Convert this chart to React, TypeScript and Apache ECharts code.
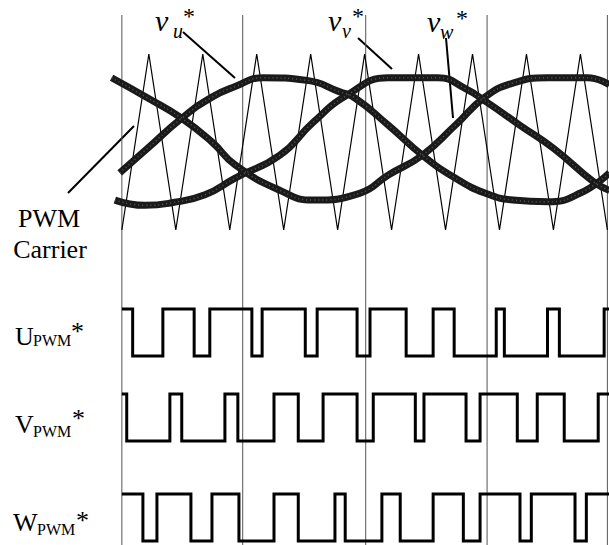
import React, { useEffect, useRef } from "react";
import * as echarts from "echarts";

// Time axis unit: one carrier period. Vertical reference lines (time divisions).
const divisionLines = [0, 2.24, 4.52, 6.77, 9.0];

// PWM carrier (triangle): turning points
const carrierT = [0, 0.5, 1, 1.5, 2, 2.5, 3, 3.5, 4, 4.5, 5, 5.5, 6, 6.5, 7, 7.5, 8, 8.5, 9];
const carrierV = [-1, 1, -1, 1, -1, 1, -1, 1, -1, 1, -1, 1, -1, 1, -1, 1, -1, 1, -1];

// Reference voltages
const vuT = [-0.04, 0.48, 1.11, 1.67, 2.1, 2.62, 3.43, 4.04, 4.32, 4.94, 5.57, 6.18, 6.73, 7.25, 7.89, 8.5, 9.04];
const vuV = [-0.35, -0.07, 0.27, 0.51, 0.63, 0.73, 0.7, 0.57, 0.5, 0.19, -0.15, -0.41, -0.58, -0.66, -0.68, -0.58, -0.35];

const vvT = [-0.13, 0.43, 0.93, 1.54, 2.1, 2.93, 3.54, 4.17, 4.94, 5.86, 6.36, 6.77, 7.38, 8.0, 8.74, 9.04];
const vvV = [-0.66, -0.72, -0.69, -0.6, -0.41, -0.15, 0.22, 0.53, 0.73, 0.73, 0.61, 0.45, 0.19, -0.07, -0.45, -0.55];

const vwT = [-0.19, 0.48, 1.11, 1.67, 2.1, 2.93, 3.54, 4.42, 4.94, 5.57, 6.18, 6.73, 7.25, 7.89, 8.63, 9.04];
const vwV = [0.73, 0.5, 0.27, 0.0, -0.26, -0.55, -0.66, -0.58, -0.375, -0.15, 0.19, 0.51, 0.67, 0.73, 0.73, 0.65];

// PWM outputs: initial level and switching instants
const uStart = 1;
const uEdges = [0.2, 0.76, 1.34, 1.63, 2.41, 2.6, 3.4, 3.62, 4.36, 4.6, 5.27, 5.77, 6.16, 6.94, 7.09, 7.89, 8.11, 8.94];
const vStart = 1;
const vEdges = [0.09, 0.89, 1.11, 1.91, 2.15, 2.82, 3.27, 3.73, 4.36, 4.66, 5.44, 5.6, 6.38, 6.64, 7.33, 7.7, 8.2, 8.83];
const wStart = 1;
const wEdges = [0.39, 0.65, 1.28, 1.67, 2.17, 2.82, 3.27, 3.95, 4.14, 4.82, 5.16, 5.77, 6.33, 6.64, 7.38, 7.59, 8.4, 8.61];
const pwmEnd = 9.04;

const X_MIN = -0.22;
const X_MAX = 9.03;
const SERIF = "'Liberation Serif', 'Times New Roman', Times, serif";

function zip(t: number[], v: number[]) {
  return t.map((x, i) => [x, v[i]]);
}

function pwmData(start: number, edges: number[], end: number) {
  const pts: number[][] = [[0, start]];
  let lvl = start;
  for (const e of edges) {
    lvl = 1 - lvl;
    pts.push([e, lvl]);
  }
  pts.push([end, lvl]);
  return pts;
}

function txt(text: string, x: number, y: number, size: number, opts: any = {}) {
  return {
    type: "text",
    x,
    y,
    silent: true,
    style: {
      text,
      fill: "#000",
      fontFamily: SERIF,
      fontSize: size,
      fontStyle: opts.italic ? "italic" : "normal",
      align: opts.align || "left",
      verticalAlign: "middle",
    },
  };
}

function leader(x1: number, y1: number, x2: number, y2: number) {
  return {
    type: "line",
    silent: true,
    shape: { x1, y1, x2, y2 },
    style: { stroke: "#000", lineWidth: 2 },
  };
}

export default function App() {
  const ref = useRef<HTMLDivElement>(null);

  useEffect(() => {
    if (!ref.current) return;
    const chart = echarts.init(ref.current, undefined, { renderer: "svg" });

    const gridBase = { left: 110, right: 0 };
    const grids = [
      { ...gridBase, top: 15, height: 530 },
      { ...gridBase, top: 54, height: 176 },
      { ...gridBase, top: 309, height: 47 },
      { ...gridBase, top: 394, height: 47 },
      { ...gridBase, top: 494, height: 47 },
    ];
    const xAxes = grids.map((_, i) => ({
      type: "value",
      gridIndex: i,
      min: X_MIN,
      max: X_MAX,
      show: false,
    }));
    const yAxes = grids.map((_, i) => ({
      type: "value",
      gridIndex: i,
      min: i === 1 ? -1 : 0,
      max: 1,
      show: false,
    }));

    const series: any[] = [];
    divisionLines.forEach((x) => {
      series.push({
        type: "line",
        xAxisIndex: 0,
        yAxisIndex: 0,
        data: [
          [x, 0],
          [x, 1],
        ],
        symbol: "none",
        silent: true,
        clip: false,
        lineStyle: { color: "#555", width: 1 },
        z: 1,
      });
    });
    series.push({
      type: "line",
      xAxisIndex: 1,
      yAxisIndex: 1,
      data: zip(carrierT, carrierV),
      symbol: "none",
      clip: false,
      silent: true,
      lineStyle: { color: "#000", width: 1.2 },
      z: 2,
    });
    [
      [vuT, vuV],
      [vvT, vvV],
      [vwT, vwV],
    ].forEach(([t, v]) => {
      series.push({
        type: "line",
        xAxisIndex: 1,
        yAxisIndex: 1,
        data: zip(t, v),
        symbol: "none",
        smooth: 0.5,
        clip: true,
        silent: true,
        lineStyle: { color: "#1a1a1a", width: 7 },
        z: 3,
      });
      series.push({
        type: "line",
        xAxisIndex: 1,
        yAxisIndex: 1,
        data: zip(t, v),
        symbol: "none",
        smooth: 0.5,
        clip: true,
        silent: true,
        lineStyle: { color: "#585858", width: 1.5, type: [1, 3] },
        z: 4,
      });
    });
    [
      [uStart, uEdges, 2],
      [vStart, vEdges, 3],
      [wStart, wEdges, 4],
    ].forEach(([s, e, g]: any) => {
      series.push({
        type: "line",
        xAxisIndex: g,
        yAxisIndex: g,
        data: pwmData(s, e, pwmEnd),
        step: "end",
        symbol: "none",
        clip: false,
        silent: true,
        lineStyle: { color: "#000", width: 3, join: "miter", cap: "butt" },
        z: 3,
      });
    });

    const graphic: any[] = [
      // reference labels
      txt("v", 155, 20, 30, { italic: true }),
      txt("u", 173, 30.5, 20, { italic: true }),
      txt("*", 183, 16, 24),
      txt("v", 328, 20, 30, { italic: true }),
      txt("v", 342, 30.5, 20, { italic: true }),
      txt("*", 352, 16, 24),
      txt("v", 427, 21, 30, { italic: true }),
      txt("w", 440, 31.5, 20, { italic: true }),
      txt("*", 456, 18, 24),
      leader(183, 32, 235, 78),
      leader(358, 38, 392, 69),
      leader(446, 38, 453, 118),
      // carrier label
      txt("PWM", 49, 218, 26, { align: "center" }),
      txt("Carrier", 50, 249, 26, { align: "center" }),
      leader(68, 193, 134, 126),
      // PWM output labels
      txt("U", 15, 336, 26),
      txt("PWM", 33, 340.6, 16),
      txt("*", 71, 331.8, 26),
      txt("V", 15, 424.2, 26),
      txt("PWM", 33, 431.6, 16),
      txt("*", 72, 418.8, 26),
      txt("W", 13, 522.2, 26),
      txt("PWM", 37, 529.6, 16),
      txt("*", 76, 520.8, 26),
    ];

    chart.setOption({
      animation: false,
      backgroundColor: "#fff",
      grid: grids,
      xAxis: xAxes,
      yAxis: yAxes,
      series,
      graphic,
    });

    return () => chart.dispose();
  }, []);

  return (
    <div
      ref={ref}
      style={{ position: "fixed", left: 0, top: 0, width: 609, height: 545 }}
    />
  );
}
